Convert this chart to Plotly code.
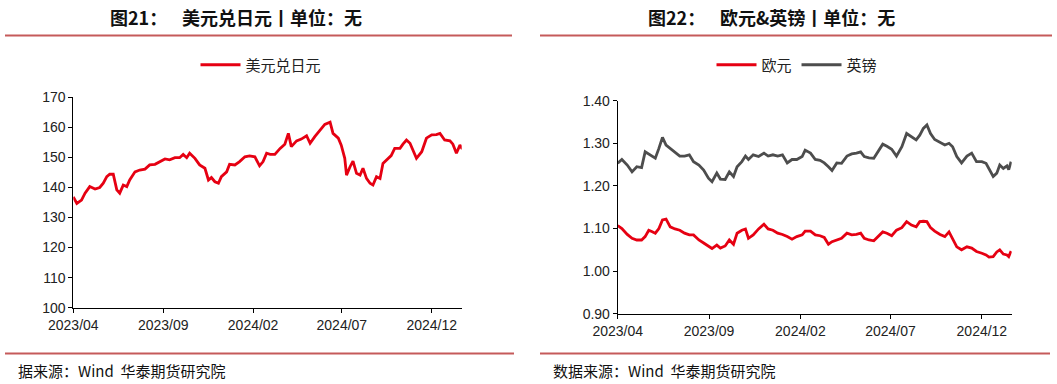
import plotly.graph_objects as go

# ---------------- data ----------------
jpy_dates = [
    "2023-04-01", "2023-04-07", "2023-04-15", "2023-04-21", "2023-04-29", "2023-05-08", "2023-05-16",
    "2023-05-22", "2023-05-28", "2023-06-02", "2023-06-08", "2023-06-14", "2023-06-19", "2023-06-25",
    "2023-07-01", "2023-07-06", "2023-07-15", "2023-07-23", "2023-08-01", "2023-08-09", "2023-08-18",
    "2023-08-26", "2023-09-04", "2023-09-12", "2023-09-21", "2023-09-29", "2023-10-05", "2023-10-11",
    "2023-10-16", "2023-10-25", "2023-11-02", "2023-11-11", "2023-11-17", "2023-11-22", "2023-11-28",
    "2023-12-04", "2023-12-09", "2023-12-18", "2023-12-23", "2024-01-01", "2024-01-09", "2024-01-18",
    "2024-01-26", "2024-02-04", "2024-02-12", "2024-02-18", "2024-02-24", "2024-03-01", "2024-03-09",
    "2024-03-18", "2024-03-26", "2024-04-01", "2024-04-06", "2024-04-15", "2024-04-23", "2024-05-02",
    "2024-05-08", "2024-05-16", "2024-05-25", "2024-06-02", "2024-06-11", "2024-06-16", "2024-06-25",
    "2024-06-30", "2024-07-06", "2024-07-09", "2024-07-15", "2024-07-20", "2024-07-26", "2024-08-01",
    "2024-08-06", "2024-08-12", "2024-08-18", "2024-08-23", "2024-08-29", "2024-09-04", "2024-09-09",
    "2024-09-15", "2024-09-23", "2024-09-29", "2024-10-08", "2024-10-13", "2024-10-19", "2024-10-25",
    "2024-10-30", "2024-11-05", "2024-11-14", "2024-11-22", "2024-12-01", "2024-12-09", "2024-12-15",
    "2024-12-23", "2025-01-01", "2025-01-06", "2025-01-12", "2025-01-18", "2025-01-22",
]
usdjpy = [
    136.9, 134.7, 135.8, 138.1, 140.3, 139.5, 140.0,
    141.4, 143.6, 144.4, 144.4, 139.2, 138.1, 140.8,
    140.3, 142.5, 145.2, 145.8, 146.1, 147.5, 147.7,
    148.6, 149.5, 149.2, 149.9, 149.9, 151.0, 149.9,
    151.4, 149.7, 147.5, 146.4, 142.5, 143.3, 141.9,
    141.4, 143.6, 145.2, 147.7, 147.5, 148.6, 150.2,
    150.5, 150.2, 147.2, 148.6, 151.4, 151.0, 151.0,
    153.0, 154.4, 158.0, 153.6, 155.5, 156.1, 157.2,
    154.7, 156.9, 159.1, 161.0, 161.7, 158.0, 156.4,
    154.1, 149.7, 144.1, 146.9, 148.8, 144.7, 144.1,
    146.4, 143.0, 141.4, 140.8, 143.6, 143.0, 148.0,
    149.1, 150.6, 153.0, 153.0, 154.4, 155.8, 154.7,
    152.5, 149.7, 151.9, 156.4, 157.5, 157.6, 158.0,
    155.8, 155.5, 154.4, 151.4, 154.1, 152.8,
]

fx_dates = [
    "2023-04-01", "2023-04-08", "2023-04-17", "2023-04-25", "2023-05-03", "2023-05-11", "2023-05-17",
    "2023-05-23", "2023-05-28", "2023-06-03", "2023-06-09", "2023-06-15", "2023-06-21", "2023-06-28",
    "2023-07-06", "2023-07-14", "2023-07-22", "2023-07-30", "2023-08-06", "2023-08-15", "2023-08-23",
    "2023-08-31", "2023-09-06", "2023-09-14", "2023-09-20", "2023-09-28", "2023-10-05", "2023-10-12",
    "2023-10-18", "2023-10-26", "2023-11-01", "2023-11-06", "2023-11-14", "2023-11-23", "2023-12-02",
    "2023-12-09", "2023-12-17", "2023-12-25", "2024-01-02", "2024-01-10", "2024-01-18", "2024-01-26",
    "2024-02-04", "2024-02-09", "2024-02-18", "2024-02-26", "2024-03-05", "2024-03-12", "2024-03-19",
    "2024-03-25", "2024-04-02", "2024-04-10", "2024-04-19", "2024-04-27", "2024-05-05", "2024-05-12",
    "2024-05-18", "2024-05-26", "2024-06-03", "2024-06-11", "2024-06-18", "2024-06-25", "2024-07-03",
    "2024-07-11", "2024-07-20", "2024-07-28", "2024-08-05", "2024-08-13", "2024-08-19", "2024-08-25",
    "2024-08-31", "2024-09-06", "2024-09-13", "2024-09-22", "2024-09-30", "2024-10-07", "2024-10-13",
    "2024-10-20", "2024-10-28", "2024-11-06", "2024-11-14", "2024-11-22", "2024-12-01", "2024-12-08",
    "2024-12-13", "2024-12-20", "2024-12-26", "2024-12-31", "2025-01-06", "2025-01-12", "2025-01-15",
    "2025-01-19",
]
eur = [
    1.107, 1.100, 1.086, 1.077, 1.073, 1.073, 1.081,
    1.096, 1.093, 1.089, 1.100, 1.120, 1.122, 1.104,
    1.099, 1.096, 1.089, 1.085, 1.085, 1.073, 1.066,
    1.058, 1.053, 1.061, 1.054, 1.059, 1.073, 1.063,
    1.089, 1.096, 1.099, 1.077, 1.085, 1.099, 1.110,
    1.099, 1.096, 1.089, 1.086, 1.081, 1.075, 1.081,
    1.085, 1.094, 1.094, 1.085, 1.083, 1.079, 1.063,
    1.069, 1.073, 1.077, 1.089, 1.085, 1.086, 1.089,
    1.077, 1.073, 1.071, 1.083, 1.092, 1.089, 1.083,
    1.096, 1.102, 1.116, 1.108, 1.104, 1.116, 1.117,
    1.116, 1.102, 1.094, 1.086, 1.081, 1.092, 1.077,
    1.057, 1.050, 1.057, 1.054, 1.046, 1.042, 1.038,
    1.033, 1.034, 1.045, 1.050, 1.040, 1.038, 1.034,
    1.047,
]
gbp = [
    1.253, 1.262, 1.249, 1.233, 1.245, 1.243, 1.280,
    1.275, 1.270, 1.265, 1.288, 1.314, 1.296, 1.288,
    1.277, 1.270, 1.270, 1.273, 1.257, 1.249, 1.237,
    1.218, 1.210, 1.230, 1.216, 1.215, 1.233, 1.222,
    1.245, 1.257, 1.270, 1.262, 1.273, 1.269, 1.277,
    1.270, 1.273, 1.270, 1.273, 1.254, 1.262, 1.262,
    1.269, 1.284, 1.277, 1.262, 1.260, 1.254, 1.245,
    1.236, 1.254, 1.253, 1.270, 1.275, 1.277, 1.280,
    1.269, 1.266, 1.265, 1.283, 1.298, 1.293, 1.286,
    1.270, 1.292, 1.323, 1.315, 1.308, 1.319, 1.335,
    1.343, 1.323, 1.309, 1.303, 1.296, 1.300, 1.292,
    1.269, 1.254, 1.270, 1.277, 1.257, 1.257, 1.253,
    1.241, 1.222, 1.230, 1.249, 1.241, 1.247, 1.238,
    1.257,
]

tick_vals = ["2023-04-01", "2023-09-01", "2024-02-01", "2024-07-01", "2024-12-01"]
tick_text = ["2023/04", "2023/09", "2024/02", "2024/07", "2024/12"]

left_fig_no = "图21："
left_title = "美元兑日元丨单位：无"
right_fig_no = "图22："
right_title = "欧元&英镑丨单位：无"
left_source = "据来源：Wind  华泰期货研究院"
right_source = "数据来源：Wind  华泰期货研究院"

# ---------------- figure ----------------
W, H = 1057, 384
RED = "#E60012"
GRAY = "#4D4D4D"
LINE_RED = "#C55A5A"
FONT = "Liberation Sans, Arial, sans-serif"
CJK = "Noto Sans CJK SC, sans-serif"

def px_x(p):
    return p / W

def px_y(p):
    return 1 - p / H

fig = go.Figure()
fig.add_trace(go.Scatter(x=jpy_dates, y=usdjpy, name="美元兑日元", mode="lines",
                         line=dict(color=RED, width=2.8), xaxis="x", yaxis="y", legend="legend"))
fig.add_trace(go.Scatter(x=fx_dates, y=eur, name="欧元", mode="lines",
                         line=dict(color=RED, width=2.8), xaxis="x2", yaxis="y2", legend="legend2"))
fig.add_trace(go.Scatter(x=fx_dates, y=gbp, name="英镑", mode="lines",
                         line=dict(color=GRAY, width=2.8), xaxis="x2", yaxis="y2", legend="legend2"))

axis_common = dict(showgrid=False, zeroline=False, showline=True, linecolor="#000000", linewidth=1,
                   ticks="outside", ticklen=4, tickcolor="#000000", automargin=False,
                   tickfont=dict(family=FONT, size=14, color="#222222"))

fig.update_layout(
    width=W, height=H,
    margin=dict(l=0, r=0, t=0, b=0, autoexpand=False),
    paper_bgcolor="white", plot_bgcolor="white",
    xaxis=dict(domain=[px_x(73.3), px_x(461.7)], type="date",
               range=["2023-04-01", "2025-01-21"], tickvals=tick_vals, ticktext=tick_text,
               anchor="y", **axis_common),
    yaxis=dict(domain=[px_y(307.7), px_y(97.3)], range=[100, 170], dtick=10,
               anchor="x", **axis_common),
    xaxis2=dict(domain=[px_x(617.7), px_x(1011.7)], type="date",
                range=["2023-04-01", "2025-01-20"], tickvals=tick_vals, ticktext=tick_text,
                anchor="y2", **axis_common),
    yaxis2=dict(domain=[px_y(313.7), px_y(100.7)], range=[0.9, 1.4], dtick=0.1, tickformat=".2f",
                anchor="x2", **axis_common),
    legend=dict(orientation="h", x=px_x(261), y=px_y(65), xanchor="center", yanchor="middle",
                font=dict(family=CJK, size=15, color="#222222"), bgcolor="rgba(0,0,0,0)",
                itemwidth=40),
    legend2=dict(orientation="h", x=px_x(797), y=px_y(65), xanchor="center", yanchor="middle",
                 font=dict(family=CJK, size=15, color="#222222"), bgcolor="rgba(0,0,0,0)",
                 itemwidth=40),
    showlegend=True,
    hovermode=False,
)

# title and source rules
for x0, x1, y in [(5, 512, 35.5), (540, 1052, 35.5), (5, 514, 353.5), (540, 1050, 353.5)]:
    fig.add_shape(type="line", xref="paper", yref="paper",
                  x0=px_x(x0), x1=px_x(x1), y0=px_y(y), y1=px_y(y),
                  line=dict(color=LINE_RED, width=2))

title_font = dict(family=CJK, size=18, color="#111111")
for txt, xpos in [(left_fig_no, 108), (left_title, 180), (right_fig_no, 646), (right_title, 718)]:
    fig.add_annotation(text="<b>" + txt + "</b>", xref="paper", yref="paper",
                       x=px_x(xpos), y=px_y(17), showarrow=False, xanchor="left", yanchor="middle",
                       font=title_font)

fig.add_annotation(text=left_source, xref="paper", yref="paper",
                   x=px_x(16), y=px_y(370), showarrow=False, xanchor="left", yanchor="middle",
                   font=dict(family=CJK, size=15, color="#111111"))
fig.add_annotation(text=right_source, xref="paper", yref="paper",
                   x=px_x(551), y=px_y(370), showarrow=False, xanchor="left", yanchor="middle",
                   font=dict(family=CJK, size=15, color="#111111"))

fig.write_html("out.html", config={"displayModeBar": False, "staticPlot": True},
               post_script="document.body.style.margin='0';document.body.style.padding='0';")
